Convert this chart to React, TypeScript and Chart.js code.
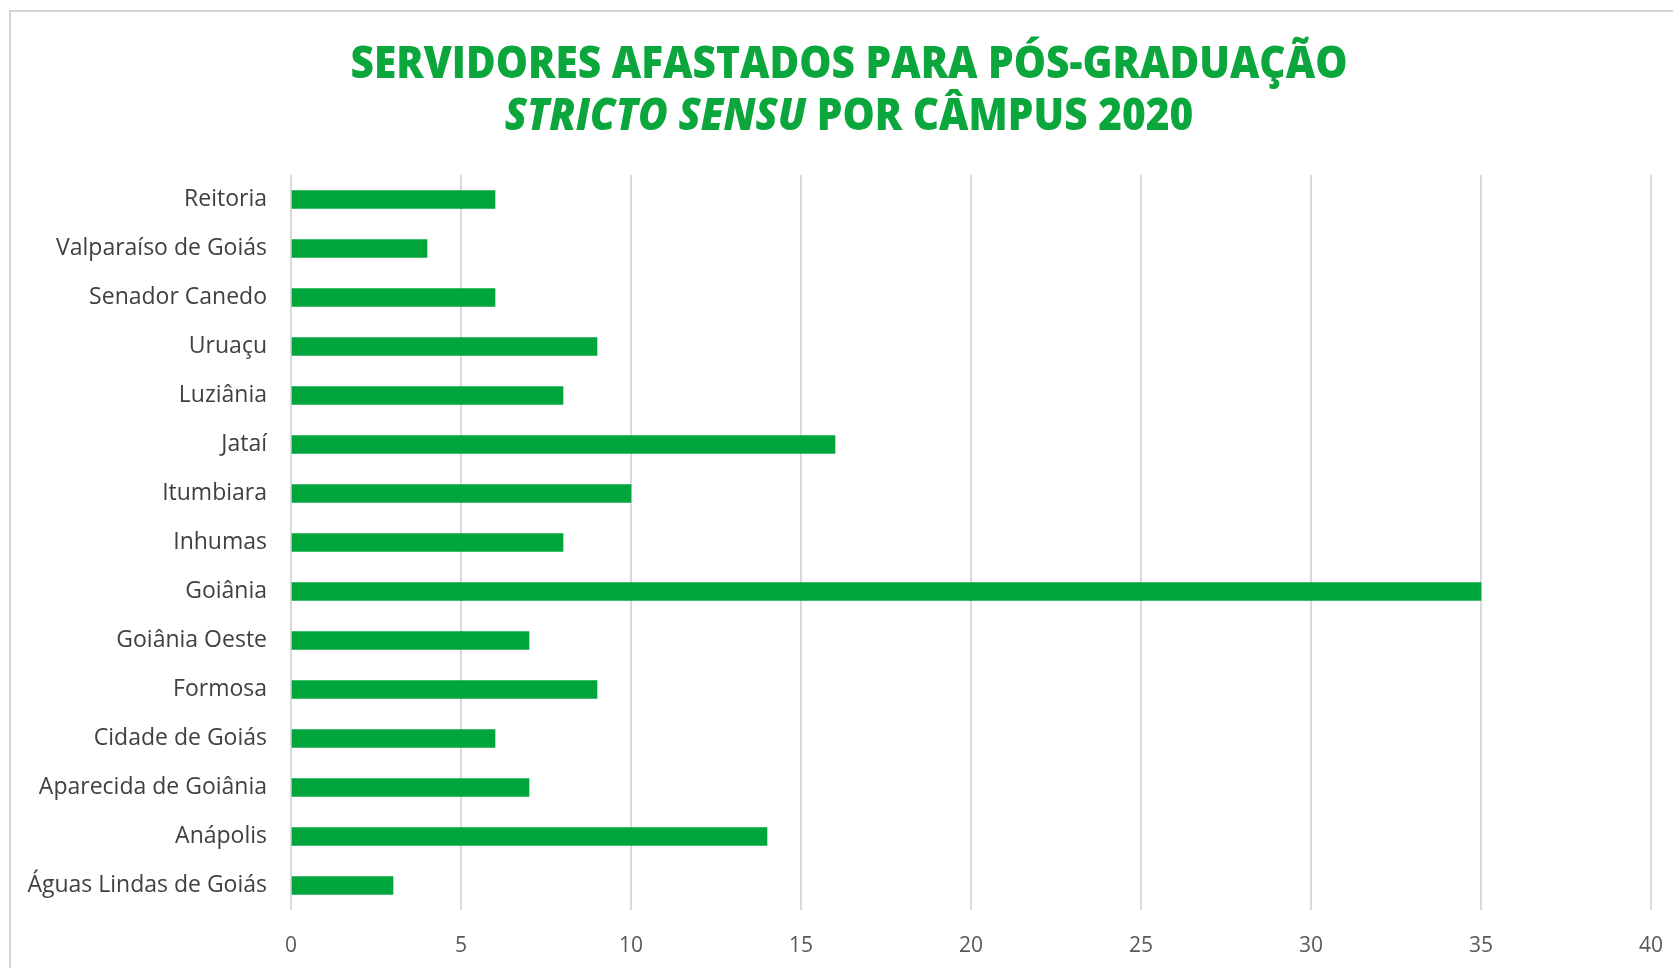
import React, { useEffect, useRef } from "react";
import { Chart, registerables } from "chart.js";

Chart.register(...registerables);

const categories: string[] = [
  "Reitoria",
  "Valparaíso de Goiás",
  "Senador Canedo",
  "Uruaçu",
  "Luziânia",
  "Jataí",
  "Itumbiara",
  "Inhumas",
  "Goiânia",
  "Goiânia Oeste",
  "Formosa",
  "Cidade de Goiás",
  "Aparecida de Goiânia",
  "Anápolis",
  "Águas Lindas de Goiás",
];

const servidores: number[] = [6, 4, 6, 9, 8, 16, 10, 8, 35, 7, 9, 6, 7, 14, 3];

const xTickMin = 0;
const xTickMax = 40;
const xTickStep = 5;

const titleLine1 = "SERVIDORES AFASTADOS PARA PÓS-GRADUAÇÃO";
const titleLine2Italic = "STRICTO SENSU";
const titleLine2Normal = " POR CÂMPUS 2020";

const GREEN = "#00A53C";
const TITLE_GREEN = "#0BA63C";

const framePlugin = {
  id: "frameAndTitle",
  beforeDraw(chart: any) {
    const ctx = chart.ctx as CanvasRenderingContext2D;
    const w = chart.width;
    const h = chart.height;
    ctx.save();
    ctx.fillStyle = "#ffffff";
    ctx.fillRect(0, 0, w, h);
    ctx.strokeStyle = "#d4d4d4";
    ctx.lineWidth = 2;
    ctx.beginPath();
    ctx.moveTo(10, h + 2);
    ctx.lineTo(10, 11);
    ctx.lineTo(w + 2, 11);
    ctx.stroke();
    ctx.restore();
  },
  afterDraw(chart: any) {
    const ctx = chart.ctx as CanvasRenderingContext2D;
    const cx = 849;
    const size = 42;
    const sy = 1.05;
    const bold = `800 ${size}px "Open Sans", "DejaVu Sans", sans-serif`;
    const boldItalic = `italic 800 ${size}px "Open Sans", "DejaVu Sans", sans-serif`;
    ctx.save();
    ctx.fillStyle = TITLE_GREEN;
    ctx.textBaseline = "middle";
    ctx.textAlign = "left";
    ctx.font = bold;
    const w1 = ctx.measureText(titleLine1).width;
    const target1 = 997;
    const sx = target1 / w1;
    // line 1
    ctx.save();
    ctx.translate(cx - target1 / 2, 65);
    ctx.scale(sx, sy);
    ctx.fillText(titleLine1, 0, 0);
    ctx.restore();
    // line 2
    ctx.font = boldItalic;
    const wi = ctx.measureText(titleLine2Italic).width;
    ctx.font = bold;
    const wn = ctx.measureText(titleLine2Normal).width;
    const total = (wi + wn) * sx;
    ctx.save();
    ctx.translate(cx - total / 2, 117);
    ctx.scale(sx, sy);
    ctx.font = boldItalic;
    ctx.fillText(titleLine2Italic, 0, 0);
    ctx.font = bold;
    ctx.fillText(titleLine2Normal, wi, 0);
    ctx.restore();
    ctx.restore();
  },
};

export default function App() {
  const canvasRef = useRef<HTMLCanvasElement | null>(null);

  useEffect(() => {
    if (!canvasRef.current) return;
    const chart = new Chart(canvasRef.current, {
      type: "bar",
      data: {
        labels: categories,
        datasets: [
          {
            label: "Servidores",
            data: servidores,
            backgroundColor: GREEN,
            borderWidth: 0,
            barThickness: 18,
          },
        ],
      },
      options: {
        indexAxis: "y",
        responsive: false,
        animation: false,
        layout: { padding: { top: 175, right: 22, left: 0, bottom: 0 } },
        plugins: {
          legend: { display: false },
          title: { display: false },
          tooltip: { enabled: false },
        },
        scales: {
          x: {
            min: xTickMin,
            max: xTickMax,
            ticks: {
              stepSize: xTickStep,
              color: "#595959",
              padding: 23,
              font: { family: '"Open Sans", sans-serif', size: 21 },
            },
            grid: {
              color: "#d9d9d9",
              lineWidth: 2,
              drawTicks: false,
            },
            border: { display: false },
            afterFit: (scale: any) => {
              scale.height = 58;
              scale.paddingRight = 0;
              scale.paddingLeft = 0;
            },
          },
          y: {
            ticks: {
              color: "#404040",
              padding: 24,
              font: { family: '"Open Sans", sans-serif', size: 23 },
            },
            grid: { display: false, drawTicks: false },
            border: { display: false },
            afterFit: (scale: any) => {
              scale.width = 291;
            },
          },
        },
      },
      plugins: [framePlugin],
    });
    return () => chart.destroy();
  }, []);

  return (
    <div style={{ position: "absolute", left: 0, top: 0, width: 1673, height: 968, background: "#fff" }}>
      <canvas ref={canvasRef} width={1673} height={968} style={{ display: "block" }} />
    </div>
  );
}
